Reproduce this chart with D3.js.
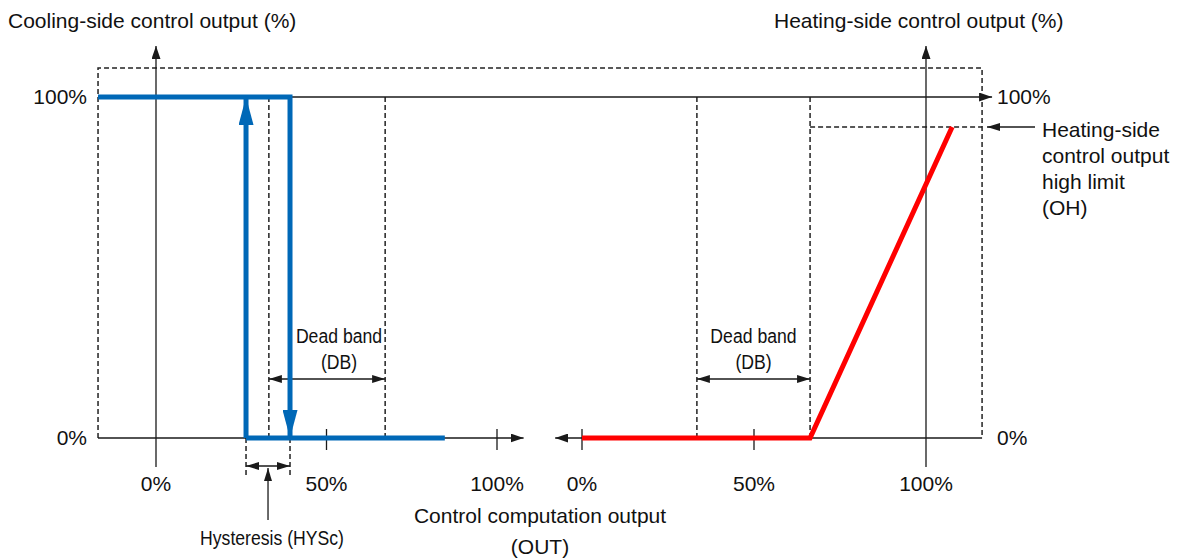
<!DOCTYPE html>
<html>
<head>
<meta charset="utf-8">
<script src="https://cdn.jsdelivr.net/npm/d3@7"></script>
<style>
  html, body { margin: 0; padding: 0; background: #fff; }
  svg { display: block; }
  text { font-family: "Liberation Sans", Arial, sans-serif; fill: #111; }
</style>
</head>
<body>
<svg id="chart" width="1185" height="559"></svg>
<script>
// ---------------- data ----------------
const xTicks = [0, 50, 100];
const xTickLabels = ["0%", "50%", "100%"];
const yTickLabels = ["0%", "100%"];
const yTicks = [0, 100];

// cooling side (left scale, % of control computation output)
const coolingOnPath = [[-17, 100], [39.3, 100], [39.3, 0]];   // stays at 100% until switch-off
const coolingUpArrow = [[26.4, 0], [26.4, 100]];              // switch-on edge
const coolingOffPath = [[26.4, 0], [84.7, 0]];
const hysteresis = [26.4, 39.3];
const deadBandCool = [33.1, 67.2];

// heating side (right scale)
const heatingPath = [[0, 0], [66.3, 0], [107.6, 91.2]];
const deadBandHeat = [33.4, 66.3];
const outputHighLimit = 91.2;

// frame extent
const boxLeft = -17, boxRight = 116.3, boxTop = 108.5;

const titles = ["Cooling-side control output (%)", "Heating-side control output (%)"];
const xTitle = ["Control computation output", "(OUT)"];
const deadBandLabel = ["Dead band", "(DB)"];
const hysLabel = "Hysteresis (HYSc)";
const ohLabel = ["Heating-side", "control output", "high limit", "(OH)"];

// ---------------- drawing ----------------
const svg = d3.select("#chart");
const xL = d3.scaleLinear().domain([0, 100]).range([156, 497]);
const xR = d3.scaleLinear().domain([0, 100]).range([582, 926]);
const y = d3.scaleLinear().domain([0, 100]).range([438, 97]);

const AX = "#1a1a1a", DASH = "#222", BLUE = "#0068b7", RED = "#ff0000";
const FS = 21;

const defs = svg.append("defs");
function marker(id, color, len, wid) {
  defs.append("marker").attr("id", id)
    .attr("markerUnits", "userSpaceOnUse")
    .attr("viewBox", `0 ${-wid / 2} ${len} ${wid}`)
    .attr("refX", len).attr("refY", 0)
    .attr("markerWidth", len).attr("markerHeight", wid)
    .attr("orient", "auto-start-reverse")
    .append("path").attr("d", `M0,${-wid / 2}L${len},0L0,${wid / 2}Z`).attr("fill", color);
}
marker("ax", AX, 13, 9);
marker("dim", AX, 13, 8);
marker("blue", BLUE, 28, 15);

const line = (xs) => d3.line().x(d => xs(d[0])).y(d => y(d[1]));

function seg(x1, y1, x2, y2, opts = {}) {
  const l = svg.append("line").attr("x1", x1).attr("y1", y1).attr("x2", x2).attr("y2", y2)
    .attr("stroke", opts.color || AX).attr("stroke-width", opts.w || 1.3);
  if (opts.dash) l.attr("stroke-dasharray", opts.dash);
  if (opts.end) l.attr("marker-end", `url(#${opts.end})`);
  if (opts.start) l.attr("marker-start", `url(#${opts.start})`);
  return l;
}
const dashed = "5,3";
const dOpt = { dash: dashed, color: DASH, w: 1.5 };

// dashed frame
svg.append("path")
  .attr("d", `M${xL(boxLeft)},${y(0)}V${y(boxTop)}H${xR(boxRight)}V${y(0)}`)
  .attr("fill", "none").attr("stroke", DASH).attr("stroke-width", 1.5).attr("stroke-dasharray", dashed);

// dead band verticals
deadBandCool.forEach(v => seg(xL(v), y(100), xL(v), y(0), dOpt));
deadBandHeat.forEach(v => seg(xR(v), y(100), xR(v), y(0), dOpt));
// OH dashed line
seg(xR(deadBandHeat[1]), y(outputHighLimit), xR(boxRight), y(outputHighLimit), dOpt);
// hysteresis dashed below axis
hysteresis.forEach(v => seg(xL(v), y(0), xL(v), y(0) + 39, dOpt));

// axes
seg(xL(boxLeft), y(100), xR(boxRight) + 10, y(100), { end: "ax" });          // 100% line
seg(xL(boxLeft), y(0), xL(107.8), y(0), { end: "ax" });                      // left OUT axis
seg(xR(boxRight), y(0), xR(-7.8), y(0), { end: "ax" });                      // right OUT axis (reversed arrow)
seg(xL(0), y(0) + 29, xL(0), 46, { end: "ax" });                             // cooling vertical axis
seg(xR(100), y(0) + 29, xR(100), 46, { end: "ax" });                         // heating vertical axis

// tick marks
[xTicks[1], xTicks[2]].forEach(v => seg(xL(v), y(0) - 9, xL(v), y(0) + 12));
[xTicks[0], xTicks[1]].forEach(v => seg(xR(v), y(0) - 9, xR(v), y(0) + 12));

// tick labels
xTicks.forEach((v, i) => {
  svg.append("text").attr("x", xL(v)).attr("y", 491).attr("text-anchor", "middle").attr("font-size", FS).text(xTickLabels[i]);
  svg.append("text").attr("x", xR(v)).attr("y", 491).attr("text-anchor", "middle").attr("font-size", FS).text(xTickLabels[i]);
});
yTicks.forEach((v, i) => {
  svg.append("text").attr("x", 87).attr("y", y(v) + 7).attr("text-anchor", "end").attr("font-size", FS).text(yTickLabels[i]);
  svg.append("text").attr("x", 997).attr("y", y(v) + 7).attr("text-anchor", "start").attr("font-size", FS).text(yTickLabels[i]);
});

// titles
svg.append("text").attr("x", 8).attr("y", 28).attr("font-size", FS).text(titles[0]);
svg.append("text").attr("x", 774).attr("y", 28).attr("font-size", FS).text(titles[1]);
svg.append("text").attr("x", 540).attr("y", 523).attr("text-anchor", "middle").attr("font-size", FS).text(xTitle[0]);
svg.append("text").attr("x", 540).attr("y", 554).attr("text-anchor", "middle").attr("font-size", FS).text(xTitle[1]);

// dead band dimension arrows + labels
function narrow(cx, by, str) {
  svg.append("text").attr("transform", `translate(${cx},${by}) scale(0.84,1)`)
    .attr("text-anchor", "middle").attr("font-size", FS).text(str);
}
[[xL, deadBandCool, 12], [xR, deadBandHeat, 0]].forEach(([xs, db, shift]) => {
  seg(xs(db[0]), 379, xs(db[1]), 379, { start: "dim", end: "dim" });
  const cx = (xs(db[0]) + xs(db[1])) / 2 + shift;
  narrow(cx, 343, deadBandLabel[0]);
  narrow(cx, 369, deadBandLabel[1]);
});

// hysteresis dimension
seg(xL(hysteresis[0]), 466, xL(hysteresis[1]), 466, { start: "dim", end: "dim" });
const hysC = (xL(hysteresis[0]) + xL(hysteresis[1])) / 2;
seg(hysC, 520, hysC, 468, { end: "dim" });
narrow(hysC + 4, 545, hysLabel);

// OH annotation
seg(1035, y(outputHighLimit), 987, y(outputHighLimit), { end: "dim" });
ohLabel.forEach((s, i) => {
  svg.append("text").attr("x", 1042).attr("y", 137 + i * 26).attr("font-size", FS).text(s);
});

// heating curve
svg.append("path").datum(heatingPath).attr("d", line(xR))
  .attr("fill", "none").attr("stroke", RED).attr("stroke-width", 5);

// cooling curve
svg.append("path").datum(coolingOffPath).attr("d", line(xL))
  .attr("fill", "none").attr("stroke", BLUE).attr("stroke-width", 5);
svg.append("path").datum(coolingUpArrow).attr("d", line(xL))
  .attr("fill", "none").attr("stroke", BLUE).attr("stroke-width", 5).attr("marker-end", "url(#blue)");
svg.append("path").datum(coolingOnPath).attr("d", line(xL))
  .attr("fill", "none").attr("stroke", BLUE).attr("stroke-width", 5).attr("marker-end", "url(#blue)");
</script>
</body>
</html>
